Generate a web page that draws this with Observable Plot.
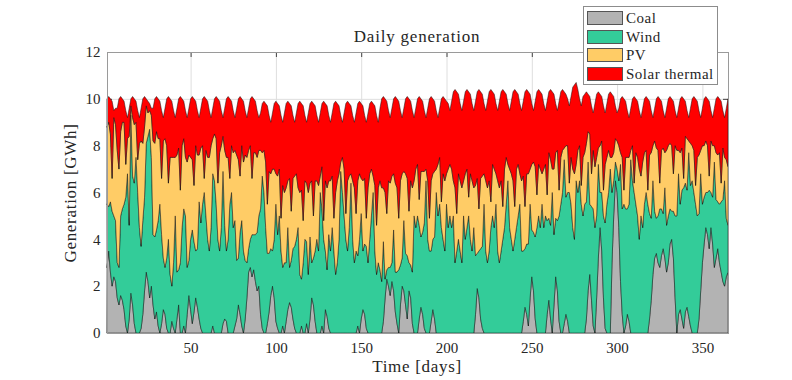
<!DOCTYPE html>
<html><head><meta charset="utf-8">
<script src="https://cdn.jsdelivr.net/npm/d3@7"></script>
<script src="https://cdn.jsdelivr.net/npm/@observablehq/plot@0.6"></script>
<style>
body{margin:0;background:#fff;}
#wrap{position:relative;width:792px;height:380px;overflow:hidden;font-family:"Liberation Serif","Times New Roman",serif;color:#262626;}
#wrap svg{position:absolute;left:0;top:0;}
.topline{position:absolute;left:9px;right:0;top:26px;height:0;border-top:1px solid #c8c8c8;}
.title{position:absolute;left:317px;width:200px;top:28px;text-align:center;font-size:17px;line-height:1;letter-spacing:0.8px;white-space:nowrap;}
.xlabel{position:absolute;left:317px;width:200px;top:358px;text-align:center;font-size:17px;line-height:1;letter-spacing:0.7px;white-space:nowrap;}
.ylabel{position:absolute;left:-29px;width:200px;top:184px;text-align:center;font-size:17px;line-height:1;letter-spacing:0.7px;white-space:nowrap;transform:rotate(-90deg);transform-origin:100px 9px;}
.legend{position:absolute;left:583px;top:6px;width:133px;height:77px;border:1px solid #8c8c8c;background:#fff;}
.legend .row{position:absolute;left:3px;height:14px;font-size:15px;line-height:14px;letter-spacing:0.5px;white-space:nowrap;}
.legend .sw{display:inline-block;width:34px;height:12px;border:1px solid #555;vertical-align:top;margin-right:3px;}
</style></head><body>
<div id="wrap"></div>
<script>
const seriesNames = ["Coal", "Wind", "PV", "Solar thermal"];
const seriesColors = ["#b3b3b3", "#33cc99", "#ffcc66", "#ff0000"];
const xTicks = [50, 100, 150, 200, 250, 300, 350];
const yTicks = [0, 2, 4, 6, 8, 10, 12];
const titleText = "Daily generation";
const xLabel = "Time [days]";
const yLabel = "Generation [GWh]";

const coal = [2.8,3.5,2.6,2.0,2.4,2.2,1.5,1.2,1.6,1.4,
1.0,0.3,0.0,0.6,1.7,1.2,0.4,0.0,0.0,0.0,
0.2,0.8,1.8,2.6,2.2,1.5,2.0,1.2,0.6,0.9,
0.3,0.0,0.4,1.0,0.8,0.2,0.0,0.0,0.5,0.2,
0.0,0.6,1.2,0.0,0.0,0.3,0.0,0.8,1.6,1.0,
0.4,0.9,1.5,1.1,0.6,0.2,0.0,0.0,0.0,0.0,
0,0,0.3,0,0,0,0,0,0.4,0.6,
0.5,0,0,0,0,0.3,0.6,1.2,0.8,0.3,
0,0.6,1.5,2.6,2.8,2.4,2.7,2.2,1.8,2.0,
0.8,0.2,0,0,0.4,0.9,1.6,2.0,1.5,0.5,
0.2,0,0,0.3,0,0.5,1.0,1.3,1.1,0.6,
0.2,0,0,0,0.3,0,0,0.4,0,0.6,
1.5,1.2,0.5,0,0,0,0.3,0,1.0,0.7,
0.2,0,0,0,0,0,0,0,0,0,
0,0,0,0,0,0,0,0.3,0,0.6,
1.0,0.8,0.2,0,0,0,0,0,0,0,
0,0,0.5,1.5,2.3,2.0,1.6,2.2,1.8,0.9,
0.4,0,1.2,2.0,1.8,1.2,0.6,1.8,1.5,0.4,
0,0,0,0.6,1.1,0.8,0.2,0,0,0,
0.5,1.0,0.6,0,0,0,0,0,0,0,
0,0,0,0,0,0,0,0,0,0,
0,0,0,0,0,0,0.8,1.9,1.5,0.6,
0.2,0,0,0,0,0,0,0,0,0,
0,0,0,0,0,0,0,0,0,0,
0,0,0,0,0.5,1.1,0.8,0.3,1.5,2.4,
1.8,0.6,0,0,0,0,0,0,0.8,1.4,
0.6,0,1.2,2.4,1.8,0.5,0,0,0.4,0.8,
0.5,0,0,0,0,0,0,0,0,0,
0,0.6,1.8,2.5,1.4,0.3,0,1.5,3.2,4.5,
3.5,1.5,0.2,0,0,0,3.0,5.0,6.5,6.0,
4.5,2.2,0.8,0,0.3,0.8,0.5,0,0,0,
0,0,0,0,0,0,0,0,0.6,1.4,
2.5,3.2,3.4,3.0,2.8,3.3,3.6,3.2,2.6,3.0,
3.8,4.0,3.2,1.5,0,0.8,1.0,0.6,0.2,0.9,
1.1,0.7,0.3,0,0,0,0,0.6,1.8,3.0,
3.8,4.5,4.2,3.6,4.5,3.8,2.8,3.2,3.6,3.0,
2.6,2.2,2.0,2.4,2.6];

const wind = [2.7,1.9,3.0,3.2,2.6,2.6,1.5,1.6,3.4,3.9,
4.5,5.5,6.8,4.0,7.6,5.5,6.0,7.5,6.0,4.5,
3.5,4.0,4.0,5.5,6.2,7.2,5.5,3.0,3.5,3.5,
4.5,5.5,3.8,2.2,2.0,3.0,4.0,2.5,1.5,2.8,
5.0,2.0,1.5,3.0,4.5,5.0,5.0,2.0,1.5,3.0,
4.0,3.0,2.0,2.5,5.0,4.5,5.5,6.0,5.0,4.0,
3.5,4.5,6.5,6.5,5.5,4.0,3.5,4.5,6.5,4.0,
3.0,4.0,5.5,6.0,4.5,4.5,2.5,2.0,3.5,4.5,
3.5,2.5,1.5,1.0,1.2,1.8,1.5,2.0,2.5,3.0,
4.5,6.5,6.0,4.5,3.0,2.5,2.0,1.5,2.5,5.0,
4.0,5.0,3.5,2.5,3.0,2.5,3.5,1.5,2.0,3.0,
3.5,4.0,4.5,2.5,2.0,3.0,4.0,3.5,2.5,3.5,
1.5,2.0,3.0,4.0,3.5,6.0,5.0,4.0,2.5,2.0,
4.0,3.5,4.5,3.5,2.5,3.0,4.0,6.9,6.0,5.0,
4.0,3.5,4.5,6.4,4.0,3.0,3.5,3.0,4.0,4.5,
2.5,3.0,3.5,3.0,4.0,5.0,6.0,3.5,2.5,3.0,
2.7,2.2,3.4,0.8,0.4,0.8,1.2,0.8,2.6,1.7,
2.2,2.7,1.7,1.2,3.0,2.2,2.7,1.2,1.4,2.2,
5.0,4.5,5.0,4.0,3.0,3.5,4.5,6.5,4.0,3.5,
3.0,3.0,3.5,6.0,5.0,5.5,4.5,4.0,3.5,5.5,
4.5,5.0,4.5,5.0,3.0,3.5,4.0,3.5,3.0,5.0,
4.0,4.5,5.0,4.0,3.5,4.5,2.5,1.5,2.0,3.0,
3.5,5.5,3.5,3.0,3.5,4.5,5.0,4.5,5.5,3.5,
3.0,3.5,4.0,4.5,5.5,6.5,4.5,4.0,3.5,4.0,
4.5,5.0,5.5,3.5,3.0,2.5,3.0,3.5,4.0,2.0,
2.5,3.5,4.5,5.0,4.5,5.5,4.5,5.0,4.0,3.5,
4.0,6.0,3.0,2.5,3.0,4.5,5.5,6.0,7.0,5.0,
5.5,6.0,5.5,4.5,4.0,6.5,6.0,6.5,5.5,5.0,
5.5,5.0,5.5,3.0,4.0,5.0,4.5,3.5,4.0,1.5,
2.5,3.5,4.5,5.5,6.0,7.0,3.0,1.5,0.8,1.0,
2.0,5.0,4.5,5.5,5.0,4.5,5.0,7.4,6.5,6.0,
5.5,5.0,4.0,5.0,4.5,5.5,6.0,5.5,4.5,3.5,
4.0,2.0,1.5,2.0,2.5,2.0,1.5,3.0,2.0,2.0,
1.5,1.2,2.0,3.5,5.0,6.0,4.5,5.5,6.0,5.5,
5.0,7.0,6.0,6.5,6.0,5.5,5.0,4.5,5.0,2.5,
2.0,1.5,1.8,2.5,1.5,2.0,4.5,2.5,2.0,2.5,
3.0,3.5,4.5,2.5,2.0];

const pv = [3.3,3.6,2.9,1.4,4.2,4.1,4.8,4.2,3.6,3.7,
3.5,1.4,1.5,3.8,0.4,2.5,2.5,1.5,1.4,3.6,
4.5,3.3,3.0,1.6,1.0,0.8,1.8,4.0,4.0,4.2,
3.5,2.8,2.4,5.0,5.5,4.8,2.4,5.0,5.5,4.5,
2.5,5.0,5.2,3.1,3.5,3.0,2.5,4.5,4.5,3.5,
3.0,2.4,4.5,4.0,2.0,3.2,2.5,0.6,2.8,3.5,
4.0,3.5,1.5,2.0,2.8,2.4,4.2,3.5,1.5,3.2,
4.0,3.5,1.1,2.0,3.2,3.0,4.5,4.2,2.4,3.2,
3.8,4.5,4.5,4.2,4.0,2.4,3.5,3.5,3.2,2.8,
2.5,1.0,1.8,2.8,2.1,3.5,3.2,3.5,3.0,1.3,
2.5,2.0,1.4,3.5,3.0,3.2,2.0,3.8,2.1,3.0,
3.0,2.8,1.7,3.5,3.8,1.8,2.5,2.5,3.5,2.3,
3.5,1.8,3.0,2.5,2.8,0.7,1.8,0.8,3.0,3.5,
2.3,3.0,2.2,1.4,3.5,3.5,2.8,0.4,1.5,2.0,
1.1,3.0,2.2,0.4,2.5,3.2,1.6,3.2,2.8,1.5,
3.0,2.8,1.2,3.2,2.8,2.0,0.7,2.8,2.1,3.2,
3.8,4.0,2.3,3.7,2.4,3.7,3.6,3.7,2.4,3.8,
3.6,2.2,3.6,3.6,2.1,3.4,3.3,2.2,3.6,3.6,
1.5,2.5,2.2,1.1,2.8,2.6,2.2,0.5,2.5,1.4,
3.0,2.8,2.8,1.0,2.2,2.0,1.1,2.8,3.0,1.3,
2.5,2.2,2.5,1.5,3.2,1.6,2.8,3.0,3.2,1.5,
2.8,2.5,0.8,2.8,3.0,1.7,3.0,3.2,1.8,3.0,
3.0,1.3,3.0,3.2,3.0,1.1,2.2,2.5,1.3,3.0,
3.2,3.0,1.4,2.5,2.0,0.7,2.5,2.8,3.0,1.4,
2.5,2.2,1.3,3.0,3.2,1.8,3.0,3.0,1.5,2.8,
3.0,3.0,1.4,2.2,2.5,1.3,2.5,2.2,1.1,2.8,
2.8,1.0,2.8,2.8,3.0,1.1,2.0,1.8,0.5,2.2,
2.0,0.4,2.0,2.5,2.8,0.7,1.8,1.5,0.8,2.5,
2.2,2.5,1.3,3.0,1.4,2.5,2.6,2.5,0.7,2.0,
2.2,1.1,2.5,2.0,1.8,0.5,1.5,1.2,1.0,1.2,
1.5,0.5,2.2,0.6,2.2,2.2,2.0,0.4,1.5,0.4,
2.2,2.5,3.0,1.7,2.8,2.2,1.8,0.6,2.5,2.8,
1.5,3.0,3.0,2.8,1.1,2.5,2.8,1.5,3.2,3.0,
2.8,2.8,1.6,3.0,2.8,1.0,2.2,1.8,0.4,2.0,
2.2,0.5,1.8,1.5,1.8,0.8,2.5,2.5,1.0,2.5,
2.2,2.2,2.0,0.6,2.2,2.2,0.7,2.0,2.0,2.2,
0.8,2.2,1.0,2.5,2.5];

const solarThermal = [1.2,1.1,1.5,3.3,0.3,0.7,1.8,3.0,1.5,1.0,
0.9,2.3,0.9,1.2,0.3,0.9,1.1,0.9,2.1,1.1,
1.4,1.9,1.3,0.3,0.5,0.3,0.3,1.4,1.9,1.5,
1.7,1.6,2.9,1.0,1.3,2.0,3.7,2.5,2.4,2.0,
1.7,2.0,2.1,4.0,2.0,1.6,2.0,1.9,2.0,2.5,
2.7,3.7,1.9,1.9,1.6,1.7,2.0,3.5,2.2,2.4,
2.0,1.2,1.3,1.5,1.8,3.6,2.2,1.5,0.8,1.8,
2.5,2.6,3.4,1.9,1.8,1.4,2.0,2.6,3.4,2.0,
2.6,1.9,1.7,1.8,2.0,3.5,2.3,2.2,2.0,1.4,
1.6,2.1,2.1,2.5,4.2,2.4,2.2,2.4,2.8,3.1,
3.1,2.7,4.4,2.7,3.4,3.6,3.4,3.2,4.5,2.7,
2.3,2.6,3.6,3.9,3.7,4.9,2.8,2.6,3.4,3.4,
3.4,4.8,3.2,2.8,2.7,2.7,2.7,5.1,3.3,3.5,
2.8,2.5,2.7,4.9,3.9,3.3,2.9,2.0,1.5,2.4,
4.7,3.4,3.1,2.9,2.8,2.8,4.3,3.3,3.1,3.2,
3.2,2.7,4.1,3.2,3.0,2.9,3.1,3.4,4.7,2.8,
3.1,3.8,3.9,4.0,4.8,3.0,2.8,2.9,3.2,3.7,
3.8,5.0,3.0,2.4,2.7,3.2,3.5,4.8,3.4,3.3,
2.7,2.6,2.8,4.4,3.1,3.0,2.6,2.2,3.1,5.1,
3.6,3.2,3.0,2.5,2.0,2.1,4.4,3.3,3.5,3.1,
2.8,2.3,2.9,3.8,4.2,5.2,3.4,3.3,3.3,3.4,
3.5,3.4,4.5,3.4,3.3,3.3,3.6,3.7,5.1,3.7,
3.5,3.0,3.0,3.7,3.8,4.8,3.1,3.2,3.0,3.0,
3.7,3.8,5.0,3.3,2.7,2.6,2.5,3.1,3.8,5.0,
3.3,3.0,3.0,3.0,3.2,4.9,3.6,3.5,3.2,2.6,
2.2,2.8,4.4,3.2,3.3,3.4,2.8,2.3,4.0,2.6,
3.0,3.3,3.2,2.1,1.7,3.8,2.8,2.6,2.4,2.2,
2.0,3.3,2.6,3.5,3.8,3.5,2.6,2.0,3.4,2.6,
2.5,2.2,1.6,1.6,2.9,1.6,2.7,2.7,2.4,2.2,
1.9,3.6,2.2,2.3,2.4,2.8,2.7,2.4,1.4,1.2,
1.6,2.3,2.6,3.9,2.4,2.0,1.7,1.8,2.0,3.7,
2.3,2.4,2.5,2.5,2.3,2.3,2.3,3.9,2.3,1.8,
1.2,1.4,2.1,2.3,3.6,2.1,1.6,1.5,1.8,2.0,
2.0,2.0,3.1,1.5,1.4,1.8,2.3,2.2,3.4,1.5,
1.2,1.0,1.5,2.0,2.3,3.7,2.4,1.9,1.4,1.6,
2.0,1.9,2.0,3.2,1.3,1.2,1.6,2.3,2.5,2.3,
3.5,1.6,1.7,2.2,2.9];

const seriesValues = [coal, wind, pv, solarThermal];
const nDays = coal.length;
const days = d3.range(1, nDays + 1);
const rows = [];
seriesNames.forEach((name, k) => {
  days.forEach((d, i) => rows.push({day: d, series: name, value: seriesValues[k][i] ?? 0}));
});

const chart = Plot.plot({
  width: 792, height: 380,
  marginLeft: 107, marginRight: 64, marginTop: 52, marginBottom: 47,
  x: {domain: [1, 365]},
  y: {domain: [0, 12]},
  color: {domain: seriesNames, range: seriesColors},
  style: {fontFamily: "'Liberation Serif', 'Times New Roman', serif", fontSize: "15px", color: "#262626", background: "white", overflow: "visible"},
  marks: [
    Plot.gridX(xTicks, {stroke: "#dedede", strokeOpacity: 1}),
    Plot.gridY(yTicks, {stroke: "#dedede", strokeOpacity: 1}),
    Plot.tickX(xTicks, {x: d => d, insetBottom: 276, stroke: "#444"}),
    Plot.tickY(yTicks, {y: d => d, insetRight: 616, stroke: "#444"}),
    Plot.tickY(yTicks, {y: d => d, insetLeft: 616, stroke: "#444"}),
    Plot.areaY(rows, {x: "day", y: "value", z: "series", fill: "series", order: seriesNames,
      stroke: "#111", strokeWidth: 0.6, strokeOpacity: 0.85, curve: "linear"}),
    Plot.frame({stroke: "#9a9a9a"}),
    Plot.axisX(xTicks, {tickSize: 0, tickPadding: 9, label: null, fontSize: 15}),
    Plot.axisY(yTicks, {tickSize: 0, tickPadding: 7, label: null, fontSize: 15})
  ]
});

const wrap = document.getElementById("wrap");
const line = document.createElement("div"); line.className = "topline"; wrap.appendChild(line);
wrap.appendChild(chart);
const t = document.createElement("div"); t.className = "title"; t.textContent = titleText; wrap.appendChild(t);
const xl = document.createElement("div"); xl.className = "xlabel"; xl.textContent = xLabel; wrap.appendChild(xl);
const yl = document.createElement("div"); yl.className = "ylabel"; yl.textContent = yLabel; wrap.appendChild(yl);
const lg = document.createElement("div"); lg.className = "legend";
seriesNames.forEach((name, i) => {
  const r = document.createElement("div"); r.className = "row"; r.style.top = (4 + i * 18.5) + "px";
  const sw = document.createElement("span"); sw.className = "sw"; sw.style.background = seriesColors[i];
  r.appendChild(sw); r.appendChild(document.createTextNode(name)); lg.appendChild(r);
});
wrap.appendChild(lg);
</script>
</body></html>
